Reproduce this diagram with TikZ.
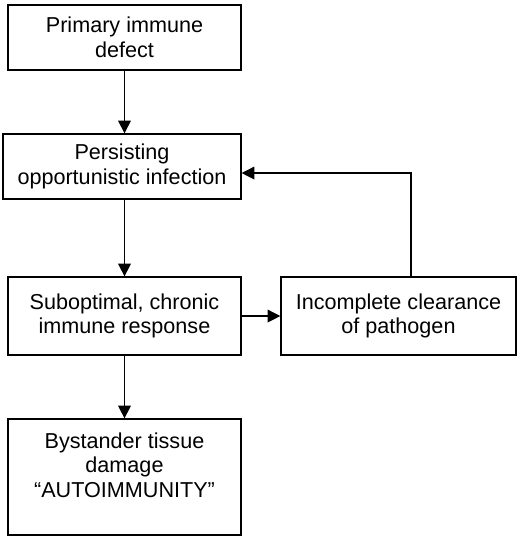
\documentclass[tikz,border=0pt]{standalone}
\usepackage{fontspec}
\setmainfont{Liberation Sans}
\usepackage{tikz}
\usetikzlibrary{shapes.geometric, arrows, arrows.meta}
\tikzstyle{stepbox} = [rectangle, minimum width=174.75pt, minimum height=48.75pt, align=center, inner sep=2pt, draw=black, line width=1pt, font=\fontsize{16.2}{18.4}\selectfont]
\tikzstyle{arrow} = [line width=0.9pt, -{Triangle[length=9.5pt, width=9.5pt]}]

\begin{document}
\begin{tikzpicture}[x=0.75pt, y=-0.75pt, node distance=96.75pt]
	\useasboundingbox [fill=white] (0,0) rectangle (520,540);
	\node (defect) [stepbox] at (124.5,37.5) {Primary immune\\defect};
	\node (persist) [stepbox, minimum width=178.5pt, below of=defect, xshift=-1.9pt] {Persisting\\opportunistic infection};
	\node (subopt) [stepbox, minimum height=58.5pt, below of=persist, xshift=1.9pt, yshift=-15.4pt] {Suboptimal, chronic\\immune response};
	\node (damage) [stepbox, minimum height=87pt, below of=subopt, yshift=-24pt] {Bystander tissue\\damage\\“AUTOIMMUNITY”\\ \mbox{}};
	\node (clear) [stepbox, minimum width=176.25pt, minimum height=58.5pt, right of=subopt, xshift=108.75pt] {Incomplete clearance\\of pathogen};
	\draw [arrow] (defect) -- (defect |- persist.north);
	\draw [arrow] (persist.south -| subopt) -- (subopt);
	\draw [arrow] (subopt) -- (damage);
	\draw [arrow] (subopt) -- (clear);
	\draw [arrow] ([xshift=9.4pt]clear.north) |- ([yshift=-4.9pt]persist.east);
\end{tikzpicture}
\end{document}
